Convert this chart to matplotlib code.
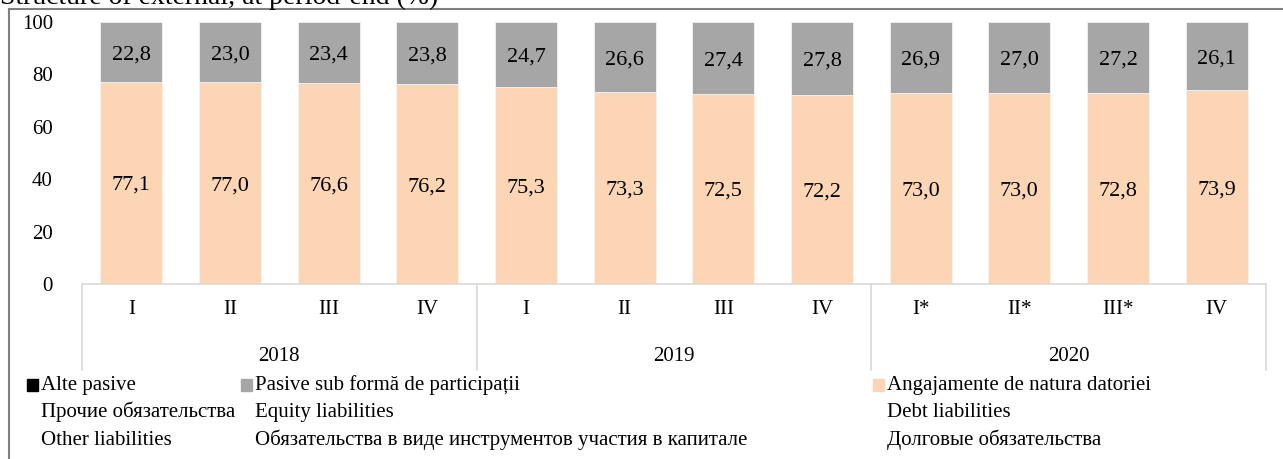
import matplotlib.pyplot as plt
from matplotlib.patches import Rectangle
from matplotlib.lines import Line2D
import numpy as np

# data
quarters = ["I", "II", "III", "IV", "I", "II", "III", "IV", "I*", "II*", "III*", "IV"]
years = ["2018", "2019", "2020"]
debt = [77.1, 77.0, 76.6, 76.2, 75.3, 73.3, 72.5, 72.2, 73.0, 73.0, 72.8, 73.9]
equity = [22.8, 23.0, 23.4, 23.8, 24.7, 26.6, 27.4, 27.8, 26.9, 27.0, 27.2, 26.1]
other = [0.0] * 12

legend_names = [
    ["Alte pasive", "Прочие обязательства", "Other liabilities"],
    ["Pasive sub formă de participații", "Equity liabilities",
     "Обязательства в виде инструментов участия в капитале"],
    ["Angajamente de natura datoriei", "Debt liabilities", "Долговые обязательства"],
]

c_debt = "#FCD5B5"
c_equity = "#A6A6A6"
c_other = "#000000"
plt.rcParams["font.family"] = ["Liberation Serif", "DejaVu Serif"]
fs = 15

W, H = 1283, 459
fig = plt.figure(figsize=(W / 100, H / 100), dpi=100)
ax = fig.add_axes([82 / W, 1 - 284 / H, (1266 - 82) / W, (284 - 22) / H])

x = np.arange(len(quarters))
bw = 0.63
ax.bar(x, debt, bw, color=c_debt, edgecolor="#f3f3f3", linewidth=0.6)
ax.bar(x, equity, bw, bottom=debt, color=c_equity, edgecolor="#f3f3f3", linewidth=0.6)
ax.bar(x, other, bw, bottom=np.array(debt) + np.array(equity), color=c_other)

for i in range(len(x)):
    ax.text(x[i], debt[i] / 2, f"{debt[i]:.1f}".replace(".", ","),
            ha="center", va="center_baseline", fontsize=16)
    ax.text(x[i], debt[i] + equity[i] / 2, f"{equity[i]:.1f}".replace(".", ","),
            ha="center", va="center_baseline", fontsize=16)

ax.set_xlim(-0.5, len(x) - 0.5)
ax.set_ylim(0, 100)
ax.set_yticks(range(0, 101, 20))
ax.tick_params(axis="y", length=0, pad=21, labelsize=fs)
ax.set_xticks([])
for s in ax.spines.values():
    s.set_visible(False)

# category axis (quarters / years)
tr = ax.get_xaxis_transform()
axis_col = "#D9D9D9"
ax.add_line(Line2D([-0.5, len(x) - 0.5], [0, 0], transform=tr, color=axis_col,
                   lw=1.2, clip_on=False))
for b in [-0.5, 3.5, 7.5, 11.5]:
    ax.add_line(Line2D([b, b], [0, -86 / 262], transform=tr, color=axis_col,
                       lw=1.2, clip_on=False))
for i, q in enumerate(quarters):
    ax.text(i, -30 / 262, q, transform=tr, ha="center", va="baseline", fontsize=fs)
for j, yr in enumerate(years):
    ax.text(4 * j + 1.5, -77 / 262, yr, transform=tr, ha="center", va="baseline",
            fontsize=fs)

# legend
cols = [c_other, c_equity, c_debt]
col_x = [27, 241, 873]
rows_base = [390, 417, 445]
for k in range(3):
    fig.patches.append(Rectangle((col_x[k] / W, 1 - 391 / H), 11 / W, 12 / H,
                                 transform=fig.transFigure, color=cols[k]))
    for r in range(3):
        fig.text((col_x[k] + 14) / W, 1 - rows_base[r] / H, legend_names[k][r],
                 ha="left", va="baseline", fontsize=fs)

# outer frame
fig.add_artist(Line2D([9 / W, 9 / W], [0, 1 - 9 / H], transform=fig.transFigure,
                      color="#808080", lw=1.5))
fig.add_artist(Line2D([9 / W, 1], [1 - 9 / H, 1 - 9 / H], transform=fig.transFigure,
                      color="#808080", lw=1.5))

# title, cut by the top edge as in the source
fig.text(0, 1 - 4 / H, "Structure of external, at period-end (%)", ha="left",
         va="baseline", fontsize=20)

plt.savefig("out.png", dpi=100)
